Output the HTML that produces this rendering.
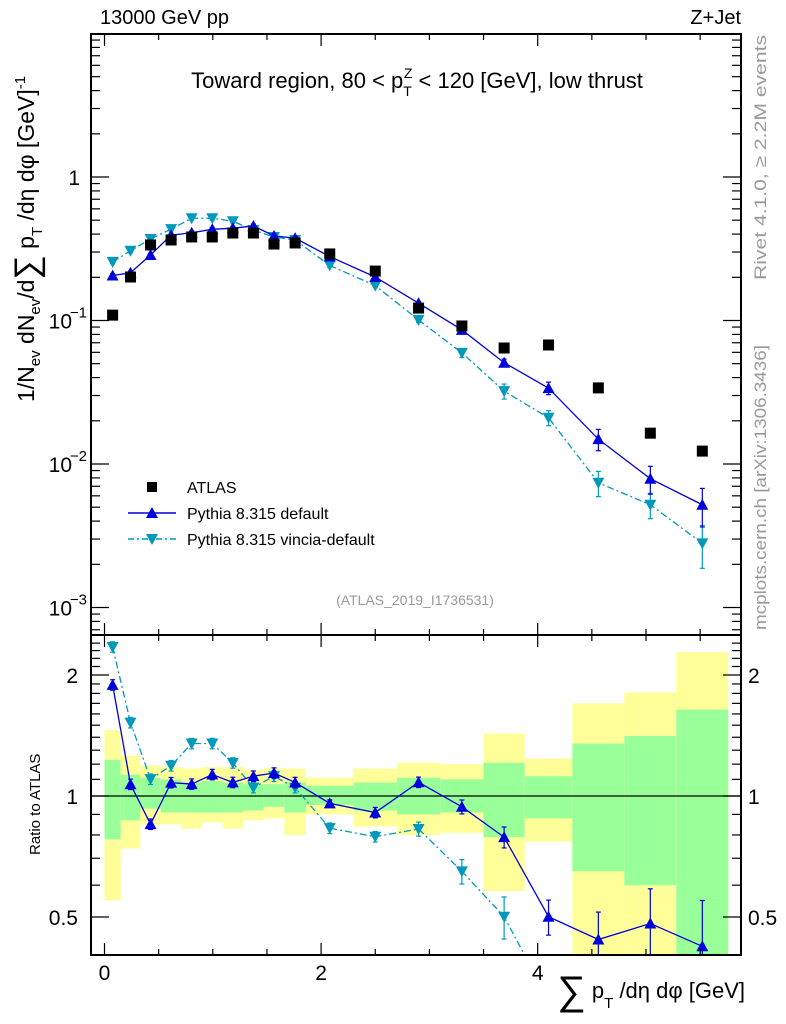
<!DOCTYPE html>
<html><head><meta charset="utf-8"><style>
html,body{margin:0;padding:0;background:#fff;overflow:hidden}
svg{display:block;font-family:"Liberation Sans",sans-serif}
</style></head><body>
<svg id="chart" width="786" height="1024" viewBox="0 0 786 1024" xmlns="http://www.w3.org/2000/svg">
<defs>
<clipPath id="rclip"><rect x="91" y="635" width="650" height="320"/></clipPath>
<clipPath id="mclip"><rect x="91" y="34" width="650" height="601"/></clipPath>
</defs>
<g id="bands" clip-path="url(#rclip)"></g>
<g id="marks"></g>
<g id="axes"></g>
<text x="100" y="24" font-size="20">13000 GeV pp</text>
<text x="741" y="24" font-size="20" text-anchor="end">Z+Jet</text>
<text x="417" y="88" font-size="22" text-anchor="middle">Toward region, 80 &lt; p<tspan font-size="14" dy="8">T</tspan><tspan font-size="14" dx="-8" dy="-18">Z</tspan><tspan dy="10" font-size="22"> &lt; 120 [GeV], low thrust</tspan></text>
<text transform="translate(766,280) rotate(-90)" font-size="17" fill="#999" textLength="245" lengthAdjust="spacingAndGlyphs">Rivet 4.1.0, ≥ 2.2M events</text>
<text transform="translate(766,630) rotate(-90)" font-size="17" fill="#999" textLength="285" lengthAdjust="spacingAndGlyphs">mcplots.cern.ch [arXiv:1306.3436]</text>
<text x="415" y="605" font-size="14" fill="#999" text-anchor="middle">(ATLAS_2019_I1736531)</text>
<text transform="translate(34,402) rotate(-90)" font-size="23">1/N<tspan font-size="15" dy="6">ev</tspan><tspan dy="-6"> dN</tspan><tspan font-size="15" dy="6">ev</tspan><tspan dy="-6">/d</tspan><tspan font-size="34" dy="4">∑</tspan><tspan dy="-4"> p</tspan><tspan font-size="15" dy="8">T</tspan><tspan dy="-8"> /dη dφ  [GeV]</tspan><tspan font-size="15" dy="-9">-1</tspan></text>
<text transform="translate(40,855) rotate(-90)" font-size="15">Ratio to ATLAS</text>
<text x="745" y="998" font-size="22" text-anchor="end"><tspan font-size="40" dy="6">∑</tspan><tspan dy="-6"> p</tspan><tspan font-size="15" dy="10">T</tspan><tspan dy="-10"> /dη dφ [GeV]</tspan></text>
<g>
<rect x="147" y="482" width="10" height="10" fill="#000"/>
<text x="187" y="493" font-size="16">ATLAS</text>
<line x1="128" y1="513" x2="176" y2="513" stroke="#0000dd" stroke-width="1.5"/>
<polygon points="146,518 152,507 158,518" fill="#0000dd"/>
<text x="187" y="519" font-size="16">Pythia 8.315 default</text>
<line x1="128" y1="539" x2="176" y2="539" stroke="#0099bb" stroke-width="1.5" stroke-dasharray="6,3,2,3"/>
<polygon points="146,534 158,534 152,545" fill="#0099bb"/>
<text x="187" y="545" font-size="16">Pythia 8.315 vincia-default</text>
</g>
</svg>
<script>
const binEdges=[0,0.15,0.33,0.52,0.71,0.9,1.09,1.28,1.47,1.66,1.86,2.3,2.7,3.1,3.5,3.88,4.32,4.8,5.28,5.76];
const atlasValues=[0.109,0.201,0.336,0.364,0.382,0.382,0.407,0.407,0.341,0.347,0.291,0.221,0.122,0.0916,0.0643,0.0675,0.0339,0.0164,0.0123];
const defaultValues=[0.206,0.215,0.286,0.393,0.409,0.432,0.440,0.456,0.389,0.375,0.279,0.201,0.132,0.0861,0.0508,0.0338,0.0149,0.0079,0.0052];
const defaultErr=[0.03,0.03,0.03,0.03,0.03,0.03,0.03,0.03,0.03,0.03,0.02,0.03,0.03,0.04,0.06,0.1,0.17,0.22,0.3];
const vinciaValues=[0.256,0.306,0.370,0.433,0.516,0.516,0.492,0.427,0.382,0.364,0.242,0.175,0.101,0.0595,0.0322,0.021,0.0074,0.0052,0.0028];
const vinciaErr=[0.03,0.03,0.03,0.03,0.03,0.03,0.03,0.03,0.03,0.03,0.03,0.03,0.04,0.07,0.12,0.12,0.2,0.2,0.33];
const greenUp=[1.23,1.13,1.11,1.10,1.08,1.09,1.08,1.07,1.07,1.08,1.06,1.08,1.11,1.10,1.21,1.12,1.35,1.41,1.64];
const greenDn=[0.78,0.87,0.93,0.91,0.91,0.91,0.91,0.92,0.94,0.91,0.95,0.92,0.90,0.91,0.79,0.88,0.65,0.60,0.30];
const yellowUp=[1.46,1.26,1.19,1.18,1.17,1.18,1.18,1.16,1.17,1.17,1.11,1.17,1.21,1.20,1.43,1.24,1.70,1.81,2.28];
const yellowDn=[0.55,0.74,0.85,0.85,0.83,0.86,0.83,0.87,0.88,0.80,0.90,0.84,0.80,0.81,0.58,0.77,0.30,0.30,0.30];
const xTicksMajor=[0,2,4];
const ratioLabels=[0.5,1,2];

const NS="http://www.w3.org/2000/svg";
const X=v=>104.5+108.3*v;
const YM=v=>177-143.5*Math.log10(v);
const YR=r=>796-121*Math.log2(r);
function mk(tag,attrs,parent){const e=document.createElementNS(NS,tag);for(const k in attrs)e.setAttribute(k,attrs[k]);parent.appendChild(e);return e;}
const bands=document.getElementById('bands'),marks=document.getElementById('marks'),axes=document.getElementById('axes');
const centers=binEdges.slice(0,-1).map((e,i)=>(e+binEdges[i+1])/2);

for(let i=0;i<centers.length;i++){
  const x0=X(binEdges[i]),x1=X(binEdges[i+1]);
  const y=mk('rect',{x:x0,y:YR(yellowUp[i]),width:x1-x0,height:YR(yellowDn[i])-YR(yellowUp[i]),fill:'#ffff99'},bands);
  
  
  const g=mk('rect',{x:x0,y:YR(greenUp[i]),width:x1-x0,height:YR(greenDn[i])-YR(greenUp[i]),fill:'#99ff99'},bands);
  
  
}
const one=mk('line',{x1:91,x2:741,y1:YR(1),y2:YR(1),stroke:'#000','stroke-width':1.2},bands);



function series(vals,errs,color,dash,up,name){
  const gm=mk('g',{'clip-path':'url(#mclip)'},marks);
  const gr=mk('g',{'clip-path':'url(#rclip)'},marks);
  const ratio=vals.map((v,i)=>v/atlasValues[i]);
  const pm=mk('polyline',{points:centers.map((c,i)=>X(c)+','+YM(vals[i])).join(' '),fill:'none',stroke:color,'stroke-width':1.3,'stroke-dasharray':dash},gm);
  
  
  const pr=mk('polyline',{points:centers.map((c,i)=>X(c)+','+YR(ratio[i])).join(' '),fill:'none',stroke:color,'stroke-width':1.3,'stroke-dasharray':dash},gr);
  
  
  [[gm,vals,YM],[gr,ratio,YR]].forEach(([g,vv,Y])=>{
    vv.forEach((v,i)=>{
      const x=X(centers[i]),y=Y(v),ya=Y(v*(1+errs[i])),yb=Y(v*Math.max(0.05,1-errs[i]));
      mk('line',{x1:x,x2:x,y1:ya,y2:yb,stroke:color,'stroke-width':1.2},g);
      mk('line',{x1:x-2.5,x2:x+2.5,y1:ya,y2:ya,stroke:color,'stroke-width':1.2},g);
      mk('line',{x1:x-2.5,x2:x+2.5,y1:yb,y2:yb,stroke:color,'stroke-width':1.2},g);
      const pts=up?`${x-6},${y+5} ${x},${y-6} ${x+6},${y+5}`:`${x-6},${y-5} ${x+6},${y-5} ${x},${y+6}`;
      const m=mk('polygon',{points:pts,fill:color},g);
      
      
    });
  });
}
series(vinciaValues,vinciaErr,'#0099bb','7,3,2,3',false,'vincia');
series(defaultValues,defaultErr,'#0000dd','none',true,'default');
atlasValues.forEach((v,i)=>{
  const r=mk('rect',{x:X(centers[i])-5.5,y:YM(v)-5.5,width:11,height:11,fill:'#000'},marks);
  
  
});

const f1=mk('rect',{x:91,y:34,width:650,height:601,fill:'none',stroke:'#000','stroke-width':2},axes);


const f2=mk('rect',{x:91,y:635,width:650,height:320,fill:'none',stroke:'#000','stroke-width':2},axes);


const tk=(x1,y1,x2,y2)=>mk('line',{x1,y1,x2,y2,stroke:'#000','stroke-width':1.2},axes);
for(let v=0;v<=5.8;v+=0.5){
  const major=Math.abs(v-Math.round(v/2)*2)<1e-6;const L=major?12:6,x=X(v);
  tk(x,34,x,34+L);tk(x,635,x,635-L);tk(x,635,x,635+L);tk(x,955,x,955-L);
}
xTicksMajor.forEach(v=>{const t=mk('text',{x:X(v),y:980,'font-size':21,'text-anchor':'middle'},axes);t.textContent=v;

});
for(let d=-4;d<=1;d++){for(let m=1;m<=9;m++){const v=m*Math.pow(10,d),y=YM(v);if(y<34||y>635)continue;const L=m==1?18:9;tk(91,y,91+L,y);tk(741,y,741-L,y);}}
[[1,'1',''],[0.1,'10','−1'],[0.01,'10','−2'],[0.001,'10','−3']].forEach(([v,b,e])=>{
  const t=mk('text',{x:e?72:80,y:YM(v)+8,'font-size':21,'text-anchor':'end'},axes);t.textContent=b;
  
  
  if(e){const s=mk('text',{x:87,y:YM(v)-3,'font-size':15,'text-anchor':'end'},axes);s.textContent=e;}
});
for(let r=0.4;r<=2.5;r+=0.1){const y=YR(r);if(y<635||y>955)continue;const maj=[0.5,1,2].some(q=>Math.abs(q-r)<1e-6);const L=maj?18:9;tk(91,y,91+L,y);tk(741,y,741-L,y);}
ratioLabels.forEach(r=>{
  const a=mk('text',{x:78,y:YR(r)+8,'font-size':21,'text-anchor':'end'},axes);a.textContent=r;
  
  
  const b=mk('text',{x:748,y:YR(r)+8,'font-size':21},axes);b.textContent=r;
  
  
});
</script>
</body></html>
